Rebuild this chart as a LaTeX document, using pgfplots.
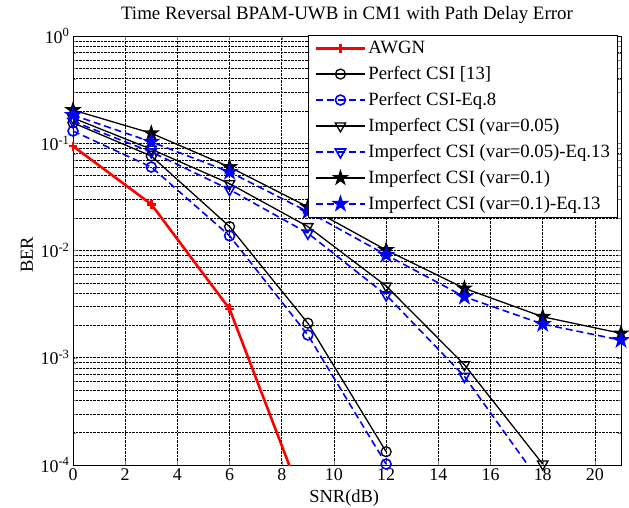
\documentclass[border=0pt]{standalone}
\usepackage{pgfplots}
\pgfplotsset{compat=1.18}
\usepackage{fontspec}
\setmainfont{Liberation Serif}
\pgfdeclareplotmark{pentagram}{%
  \pgfpathmoveto{\pgfpointpolar{90}{\pgfplotmarksize}}%
  \pgfpathlineto{\pgfpointpolar{126}{0.382\pgfplotmarksize}}%
  \pgfpathlineto{\pgfpointpolar{162}{\pgfplotmarksize}}%
  \pgfpathlineto{\pgfpointpolar{198}{0.382\pgfplotmarksize}}%
  \pgfpathlineto{\pgfpointpolar{234}{\pgfplotmarksize}}%
  \pgfpathlineto{\pgfpointpolar{270}{0.382\pgfplotmarksize}}%
  \pgfpathlineto{\pgfpointpolar{306}{\pgfplotmarksize}}%
  \pgfpathlineto{\pgfpointpolar{342}{0.382\pgfplotmarksize}}%
  \pgfpathlineto{\pgfpointpolar{18}{\pgfplotmarksize}}%
  \pgfpathlineto{\pgfpointpolar{54}{0.382\pgfplotmarksize}}%
  \pgfpathclose
  \pgfusepathqfillstroke}
\begin{document}
\begin{tikzpicture}
\begin{axis}[
  scale only axis, width=548bp, height=429bp,
  ymode=log, xmin=0, xmax=21, ymin=1e-4, ymax=1,
  xtick={0,2,...,20},
  ytick={1e-4,1e-3,1e-2,1e-1,1},
  yticklabels={10\textsuperscript{-4},10\textsuperscript{-3},10\textsuperscript{-2},10\textsuperscript{-1},10\textsuperscript{0}},
  /pgf/number format/assume math mode=true,
  tick label style={font=\fontsize{18}{20}\selectfont},
  label style={font=\fontsize{18.5}{20}\selectfont},
  every axis title shift=0pt,
  title style={font=\fontsize{19}{21}\selectfont, at={(axis description cs:0.5,1.049)}, anchor=center},
  title={Time Reversal BPAM-UWB in CM1 with Path Delay Error},
  xlabel={SNR(dB)}, ylabel={BER},
  xlabel style={at={(axis description cs:0.495,-0.077)}, anchor=center},
  ylabel style={at={(axis description cs:-0.084,0.49)}, anchor=center},
  tick align=inside, axis line style={black, line width=0.8pt},
  grid=both,
  major grid style={black, densely dotted, line width=0.55pt},
  minor grid style={black, densely dotted, line width=0.55pt},
  legend cell align=left,
  legend style={at={(0.995,1.002)}, anchor=north east, font=\fontsize{18.8}{21}\selectfont,
    draw=black, line width=0.8pt, inner xsep=6bp, inner ysep=4bp, row sep=7.3bp},
  legend image code/.code={\draw[mark repeat=2,mark phase=2] plot coordinates {(0cm,0cm)(0.87cm,0cm)(1.74cm,0cm)};},
]
\addplot[red, line width=2.6pt, mark=+, mark size=4.5pt, mark options={line width=2.6pt}] coordinates {
 (0,0.094) (3,0.027) (6,2.85e-3) (9,3.5e-5)};
\addlegendentry{AWGN}
\addplot[black, line width=1.3pt, mark=o, mark size=5pt, mark options={solid}] coordinates {
 (0,0.155) (3,0.076) (6,0.0167) (9,2.1e-3) (12,1.33e-4)};
\addlegendentry{Perfect CSI [13]}
\addplot[blue, line width=1.6pt, dash pattern=on 7bp off 4bp, mark=o, mark size=5pt, mark options={solid}] coordinates {
 (0,0.13) (3,0.060) (6,0.0137) (9,1.63e-3) (12,1.02e-4)};
\addlegendentry{Perfect CSI-Eq.8}
\addplot[black, line width=1.3pt, mark=triangle, mark size=6pt, mark options={solid, rotate=180}] coordinates {
 (0,0.172) (3,0.088) (6,0.042) (9,0.0167) (12,4.67e-3) (15,8.6e-4) (18,1.02e-4)};
\addlegendentry{Imperfect CSI (var=0.05)}
\addplot[blue, line width=1.6pt, dash pattern=on 7bp off 4bp, mark=triangle, mark size=6pt, mark options={solid, rotate=180}] coordinates {
 (0,0.16) (3,0.083) (6,0.037) (9,0.0145) (12,3.85e-3) (15,6.7e-4) (18,6.4e-5)};
\addlegendentry{Imperfect CSI (var=0.05)-Eq.13}
\addplot[black, line width=1.3pt, mark=pentagram, mark size=7pt, mark options={solid, fill=black}] coordinates {
 (0,0.204) (3,0.124) (6,0.060) (9,0.0255) (12,0.0101) (15,4.44e-3) (18,2.41e-3) (21,1.69e-3)};
\addlegendentry{Imperfect CSI (var=0.1)}
\addplot[blue, line width=1.6pt, dash pattern=on 7bp off 4bp, mark=pentagram, mark size=7pt, mark options={solid, fill=blue}] coordinates {
 (0,0.183) (3,0.103) (6,0.054) (9,0.023) (12,9.1e-3) (15,3.7e-3) (18,2.06e-3) (21,1.46e-3)};
\addlegendentry{Imperfect CSI (var=0.1)-Eq.13}
\end{axis}
\pgfresetboundingbox
\path ([xshift=-73bp,yshift=-43bp]current axis.south west) rectangle ([xshift=8bp,yshift=36bp]current axis.north east);
\end{tikzpicture}
\end{document}
